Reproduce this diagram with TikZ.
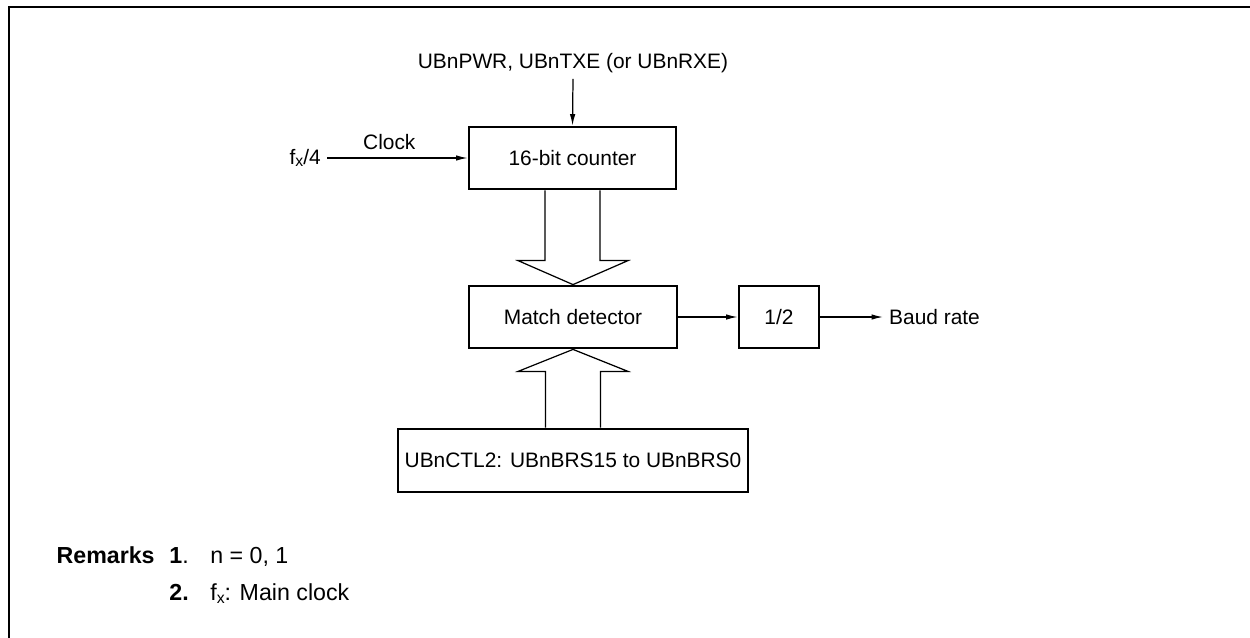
\documentclass[tikz,border=0pt]{standalone}
\usepackage{fontspec}
\setmainfont{Liberation Sans}
\usepackage{tikz}
\usetikzlibrary{positioning, calc, arrows.meta}

\newcommand{\fxsub}{f\raisebox{-0.25ex}{\small x}}

\tikzset{
    block/.style={draw, line width=1.6pt, minimum height=1.24cm, inner sep=0pt},
    sig/.style={line width=0.7pt, -{Latex[length=2.3mm, width=1.1mm]}},
    bus/.style={line width=0.7pt},
    remark/.style={inner sep=0pt, font=\fontsize{13.2}{16}\selectfont}
}

\begin{document}
\begin{tikzpicture}[font=\fontsize{11.9}{14}\selectfont]

    % Page area and frame
    \useasboundingbox (0,0) rectangle (25,-12.76);
    \draw[line width=1.7pt] (25,-0.14) -- (0.18,-0.14) -- (0.18,-12.76);

    % Blocks
    \node[block, minimum width=4.14cm] (counter) at (11.45,-3.16) {16-bit counter};
    \node[block, minimum width=4.16cm] (match) at (11.46,-6.34) {Match detector};
    \node[block, minimum width=1.6cm] (half) at (15.58,-6.34) {1/2};
    \node[block, minimum width=7.0cm, minimum height=1.26cm] (brs) at (11.46,-9.21)
        {UBnCTL2: UBnBRS15 to UBnBRS0};

    % Signal labels
    \node (pwr) at (11.46,-1.26) {UBnPWR, UBnTXE (or UBnRXE)};
    \node[anchor=east] (fx) at (6.54,-3.16) {\fxsub/4};
    \node[anchor=west] (baud) at (17.66,-6.34) {Baud rate};

    % Signal lines
    \draw[sig] (pwr.south) -- (counter.north);
    \draw[sig] (fx.east) -- (counter.west)
        node[midway, above, xshift=-0.16cm, yshift=1pt] {Clock};
    \draw[sig] (match.east) -- (half.west);
    \draw[sig] (half.east) -- (baud.west);

    % Wide arrow: counter to match detector
    \draw[bus] ([xshift=-5.5mm]counter.south) |- ($(match.north)+(-1.1,0.48)$)
        -- (match.north) -- ($(match.north)+(1.1,0.48)$)
        -| ([xshift=5.5mm]counter.south);

    % Wide arrow: compare register to match detector
    \draw[bus] ([xshift=-5.5mm]brs.north) |- ($(match.south)+(-1.1,-0.44)$)
        -- (match.south) -- ($(match.south)+(1.1,-0.44)$)
        -| ([xshift=5.5mm]brs.north);

    % Remarks
    \node[remark, anchor=base east] (rem) at (3.1,-11.26) {\textbf{Remarks}};
    \node[remark, anchor=base west] (rem1) at (3.38,-11.26) {\textbf{1}.};
    \node[remark, anchor=base west] (txt1) at (4.2,-11.26) {n = 0, 1};
    \node[remark, anchor=base west] (rem2) at (3.38,-12.0) {\textbf{2.}};
    \node[remark, anchor=base west] (txt2) at (4.2,-12.0) {\fxsub: Main clock};

\end{tikzpicture}
\end{document}
